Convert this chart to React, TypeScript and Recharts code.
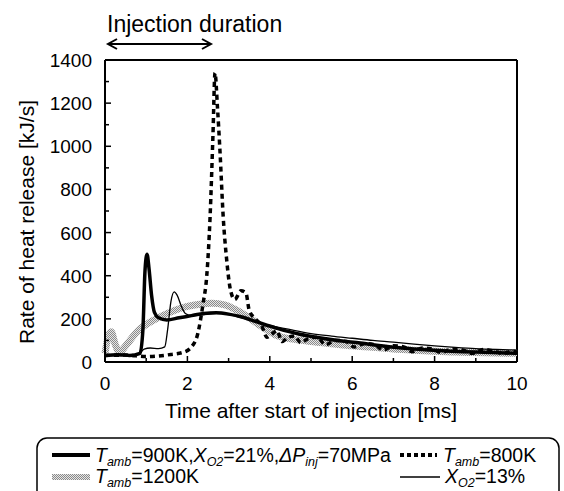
import React from "react";
import { LineChart, Line, XAxis, YAxis, ReferenceLine } from "recharts";

// tick positions: every value gets an inward mark, the labelled ones are longer
const X_TICKS = [0, 1, 2, 3, 4, 5, 6, 7, 8, 9, 10];
const X_LABELS = [0, 2, 4, 6, 8, 10];
const Y_TICKS = [0, 100, 200, 300, 400, 500, 600, 700, 800, 900, 1000, 1100, 1200, 1300, 1400];
const Y_LABELS = [0, 200, 400, 600, 800, 1000, 1200, 1400];

// Tamb=900K, XO2=21%, dPinj=70MPa (thick solid)
const tBase = [0, 0.3, 0.6, 0.85, 0.92, 0.97, 1.02, 1.07, 1.13, 1.2, 1.3, 1.5, 1.8, 2.1, 2.4, 2.7, 3.0, 3.3, 3.7, 4.2, 4.7, 5.2, 5.7, 6.2, 6.7, 7.2, 7.7, 8.2, 8.7, 9.2, 9.7, 10];
const hrrBase = [30, 34, 30, 40, 150, 420, 500, 430, 310, 230, 205, 195, 205, 215, 225, 228, 222, 210, 185, 155, 130, 112, 98, 88, 75, 65, 58, 52, 48, 45, 42, 40];

// Tamb=800K (thick dotted)
const t800 = [0, 0.5, 1.0, 1.3, 1.6, 1.9, 2.1, 2.25, 2.38, 2.47, 2.55, 2.62, 2.67, 2.73, 2.79, 2.87, 2.95, 3.05, 3.15, 3.3, 3.42, 3.5, 3.65, 3.8, 3.93, 4.05, 4.17, 4.3, 4.45, 4.6, 4.75, 4.95, 5.15, 5.35, 5.6, 5.85, 6.05, 6.3, 6.55, 6.75, 7.0, 7.25, 7.45, 7.7, 7.95, 8.15, 8.45, 8.7, 8.9, 9.2, 9.45, 9.65, 9.9, 10];
const hrr800 = [30, 32, 25, 28, 35, 45, 70, 130, 270, 400, 670, 1050, 1340, 1180, 980, 670, 480, 330, 290, 330, 320, 240, 200, 170, 115, 130, 145, 95, 115, 120, 90, 110, 115, 80, 100, 95, 70, 85, 80, 55, 75, 70, 48, 65, 60, 45, 60, 55, 40, 58, 50, 40, 50, 45];

// Tamb=1200K (grey stippled)
const t1200 = [0, 0.08, 0.15, 0.25, 0.35, 0.5, 0.8, 1.1, 1.4, 1.7, 2.0, 2.3, 2.6, 2.9, 3.2, 3.5, 3.8, 4.2, 4.6, 5.0, 5.5, 6.0, 6.5, 7.0, 7.5, 8.0, 8.5, 9.0, 9.5, 10];
const hrr1200 = [40, 120, 140, 80, 45, 75, 145, 185, 215, 240, 258, 268, 272, 265, 240, 205, 165, 120, 105, 95, 85, 75, 68, 60, 55, 50, 46, 44, 42, 40];

// XO2=13% (thin solid)
const tO2 = [0, 0.4, 0.8, 0.95, 1.1, 1.3, 1.45, 1.52, 1.6, 1.68, 1.75, 1.85, 1.95, 2.1, 2.4, 2.7, 3.0, 3.5, 4.0, 4.5, 5.0, 5.5, 6.0, 6.5, 7.0, 7.5, 8.0, 8.5, 9.0, 9.5, 10];
const hrrO2 = [30, 30, 35, 60, 65, 62, 70, 150, 280, 325, 310, 260, 225, 215, 220, 225, 220, 195, 170, 150, 132, 120, 110, 100, 92, 83, 75, 68, 62, 58, 55];

const toPoints = (t: number[], v: number[]) => t.map((x, i) => ({ t: x, v: v[i] }));

const FONT = "'Liberation Sans', Arial, sans-serif";
const SUB_DY = 4;

// tickSize/tickMargin are 0, so x/y handed to the tick is the axis line itself
function YTick(props: any) {
  const { x, y, payload } = props;
  const major = Y_LABELS.includes(payload.value);
  return (
    <g>
      <line x1={x} y1={y} x2={x + (major ? 6 : 4)} y2={y} stroke="#000" strokeWidth={1.5} />
      {major && (
        <text x={x - 13} y={y + 7} textAnchor="end" fontSize={19} fill="#000">
          {payload.value}
        </text>
      )}
    </g>
  );
}

function XTick(props: any) {
  const { x, y, payload } = props;
  const major = X_LABELS.includes(payload.value);
  return (
    <g>
      <line x1={x} y1={y} x2={x} y2={y - (major ? 6 : 4)} stroke="#000" strokeWidth={1.5} />
      {major && (
        <text x={x} y={y + 28} textAnchor="middle" fontSize={19} fill="#000">
          {payload.value}
        </text>
      )}
    </g>
  );
}

// italic symbol with italic subscript, followed by upright text
function sym(base: string, sub: string, rest: string) {
  return [
    <tspan key="b" fontStyle="italic">{base}</tspan>,
    <tspan key="s" fontStyle="italic" fontSize={12.5} dy={SUB_DY}>{sub}</tspan>,
    <tspan key="r" dy={-SUB_DY}>{rest}</tspan>,
  ];
}

function Overlay() {
  return (
    <svg
      width={564}
      height={491}
      style={{ position: "absolute", left: 0, top: 0, pointerEvents: "none" }}
    >
      <defs>
        <pattern id="stipple" width="2" height="2" patternUnits="userSpaceOnUse">
          <rect width="2" height="2" fill="#e6e6e6" />
          <rect x="0" y="0" width="1" height="1" fill="#8a8a8a" />
          <rect x="1" y="1" width="1" height="1" fill="#8a8a8a" />
        </pattern>
      </defs>

      {/* injection duration annotation */}
      <text x={107} y={32} fontSize={23} fill="#000">Injection duration</text>
      <line x1={108} y1={44} x2={211} y2={44} stroke="#000" strokeWidth={2} />
      <polyline points="117,39 108,44 117,49" fill="none" stroke="#000" strokeWidth={2} />
      <polyline points="202,39 211,44 202,49" fill="none" stroke="#000" strokeWidth={2} />

      {/* axis titles */}
      <text x={311} y={418} fontSize={21} textAnchor="middle" fill="#000">
        Time after start of injection [ms]
      </text>
      <text
        x={0}
        y={0}
        fontSize={21}
        textAnchor="middle"
        fill="#000"
        transform="translate(34,222) rotate(-90)"
      >
        Rate of heat release [kJ/s]
      </text>

      {/* legend */}
      <rect x={37} y={438} width={522} height={80} rx={10} fill="#fff" stroke="#000" strokeWidth={1.5} />
      <line x1={52} y1={455} x2={90} y2={455} stroke="#000" strokeWidth={4} />
      <text x={95} y={462} fontSize={19.5} fill="#000">
        {sym("T", "amb", "=900K,")}
        {sym("X", "O2", "=21%,")}
        {sym("ΔP", "inj", "=70MPa")}
      </text>
      <line x1={400} y1={455} x2={437} y2={455} stroke="#000" strokeWidth={4} strokeDasharray="4 3" />
      <text x={443} y={462} fontSize={19.5} fill="#000">
        {sym("T", "amb", "=800K")}
      </text>
      <line x1={52} y1={477} x2={90} y2={477} stroke="url(#stipple)" strokeWidth={6} />
      <text x={95} y={483} fontSize={19.5} fill="#000">
        {sym("T", "amb", "=1200K")}
      </text>
      <line x1={400} y1={477} x2={440} y2={477} stroke="#000" strokeWidth={1.3} />
      <text x={445} y={483} fontSize={19.5} fill="#000">
        {sym("X", "O2", "=13%")}
      </text>
    </svg>
  );
}

export default function App() {
  return (
    <div
      style={{
        position: "absolute",
        left: 0,
        top: 0,
        width: 564,
        height: 491,
        background: "#fff",
        fontFamily: FONT,
        overflow: "hidden",
      }}
    >
      <LineChart width={564} height={491} margin={{ top: 60, right: 47, bottom: 89, left: 45 }}>
        <XAxis
          dataKey="t"
          type="number"
          domain={[0, 10]}
          ticks={X_TICKS}
          interval={0}
          allowDuplicatedCategory={false}
          height={40}
          tick={<XTick />}
          tickSize={0}
          tickMargin={0}
          tickLine={false}
          axisLine={{ stroke: "#000", strokeWidth: 2 }}
        />
        <YAxis
          type="number"
          domain={[0, 1400]}
          ticks={Y_TICKS}
          interval={0}
          width={60}
          tick={<YTick />}
          tickSize={0}
          tickMargin={0}
          tickLine={false}
          axisLine={{ stroke: "#000", strokeWidth: 2 }}
        />
        <ReferenceLine y={1400} stroke="#000" strokeWidth={2} />
        <ReferenceLine x={10} stroke="#000" strokeWidth={2} />

        <Line
          data={toPoints(t1200, hrr1200)}
          dataKey="v"
          type="monotone"
          stroke="url(#stipple)"
          strokeWidth={7}
          dot={false}
          isAnimationActive={false}
        />
        <Line
          data={toPoints(tO2, hrrO2)}
          dataKey="v"
          type="monotone"
          stroke="#000"
          strokeWidth={1.3}
          dot={false}
          isAnimationActive={false}
        />
        <Line
          data={toPoints(t800, hrr800)}
          dataKey="v"
          type="monotone"
          stroke="#000"
          strokeWidth={3.5}
          strokeDasharray="5 4"
          dot={false}
          isAnimationActive={false}
        />
        <Line
          data={toPoints(tBase, hrrBase)}
          dataKey="v"
          type="monotone"
          stroke="#000"
          strokeWidth={3.5}
          dot={false}
          isAnimationActive={false}
        />
      </LineChart>
      <Overlay />
    </div>
  );
}
